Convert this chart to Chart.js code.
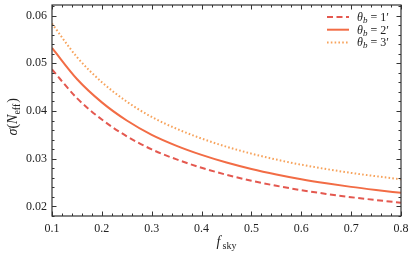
<!DOCTYPE html>
<html>
<head>
<meta charset="utf-8">
<script src="https://cdn.jsdelivr.net/npm/chart.js@4"></script>
<style>
  html, body { margin: 0; padding: 0; background: #fff; }
  #wrap { width: 414px; height: 256px; }
</style>
</head>
<body>
<div id="wrap"><canvas id="chart" width="414" height="256"></canvas></div>
<script>
const fsky = [0.10, 0.15, 0.20, 0.25, 0.30, 0.35, 0.40, 0.45, 0.50, 0.55, 0.60, 0.65, 0.70, 0.75, 0.80];
const sigmaBeam1 = [0.0487, 0.0427, 0.0382, 0.0347, 0.03195, 0.02985, 0.0281, 0.02663, 0.02539, 0.02433, 0.02341, 0.02263, 0.02194, 0.02134, 0.02079];
const sigmaBeam2 = [0.0532, 0.0467, 0.0418, 0.0380, 0.0350, 0.0327, 0.0308, 0.0292, 0.02785, 0.0267, 0.0257, 0.02485, 0.0241, 0.02345, 0.02285];
const sigmaBeam3 = [0.0583, 0.0513, 0.04604, 0.04196, 0.03874, 0.03627, 0.03423, 0.03251, 0.03106, 0.02982, 0.02875, 0.02784, 0.02703, 0.02633, 0.02569];
const beamLabels = ['1', '2', '3'];
const yTicks = [0.02, 0.03, 0.04, 0.05, 0.06];

const SERIF = '"Liberation Serif", "DejaVu Serif", serif';

function pts(ys) {
    return fsky.map((x, i) => ({ x: x, y: ys[i] }));
}

// inward ticks on all four sides, major + minor, plus titles and legend
const frameTicks = {
    id: 'frameTicks',
    afterDraw(chart) {
        const ctx = chart.ctx;
        const a = chart.chartArea;
        const xs = chart.scales.x, ys = chart.scales.y;
        ctx.save();
        ctx.strokeStyle = '#333';
        ctx.lineWidth = 1;
        ctx.beginPath();
        for (let k = 0; k <= 35; k++) {
            const v = 0.1 + k * 0.02;
            const px = Math.round(xs.getPixelForValue(v)) + 0.5;
            const len = (k % 5 === 0) ? 4.5 : 2.5;
            ctx.moveTo(px, a.bottom); ctx.lineTo(px, a.bottom - len);
            ctx.moveTo(px, a.top); ctx.lineTo(px, a.top + len);
        }
        for (let k = 0; k <= 22; k++) {
            const v = 0.018 + k * 0.002;
            if (v > ys.max) break;
            const py = Math.round(ys.getPixelForValue(v)) + 0.5;
            const major = Math.abs(v * 100 - Math.round(v * 100)) < 1e-6;
            const len = major ? 4.5 : 2.5;
            ctx.moveTo(a.left, py); ctx.lineTo(a.left + len, py);
            ctx.moveTo(a.right, py); ctx.lineTo(a.right - len, py);
        }
        ctx.stroke();
        ctx.lineWidth = 1.2;
        ctx.strokeRect(a.left, a.top, a.right - a.left, a.bottom - a.top);

        // axis titles
        ctx.fillStyle = '#222';
        ctx.textBaseline = 'alphabetic';
        const cx = (a.left + a.right) / 2;
        ctx.font = 'italic 14px ' + SERIF;
        ctx.textAlign = 'left';
        ctx.fillText('f', cx - 10, 246);
        ctx.font = '10px ' + SERIF;
        ctx.fillText('sky', cx - 4, 249);

        ctx.save();
        ctx.translate(17, (a.top + a.bottom) / 2);
        ctx.rotate(-Math.PI / 2);
        ctx.textAlign = 'left';
        let x0 = -25;
        ctx.font = 'italic 14px ' + SERIF;
        ctx.fillText('σ', x0, 0); x0 += ctx.measureText('σ').width;
        ctx.font = '14px ' + SERIF;
        ctx.fillText('(', x0, 0); x0 += ctx.measureText('(').width;
        ctx.font = 'italic 14px ' + SERIF;
        ctx.fillText('N', x0, 0); x0 += ctx.measureText('N').width;
        ctx.font = '10px ' + SERIF;
        ctx.fillText('eff', x0, 3); x0 += ctx.measureText('eff').width;
        ctx.font = '14px ' + SERIF;
        ctx.fillText(')', x0 + 1, 0);
        ctx.restore();

        // legend
        chart.data.datasets.forEach((ds, i) => {
            const ly = 17 + i * 12.7;
            ctx.save();
            ctx.strokeStyle = ds.borderColor;
            ctx.lineWidth = ds.borderWidth;
            ctx.setLineDash(ds.borderDash || []);
            ctx.beginPath();
            ctx.moveTo(327, ly); ctx.lineTo(349, ly);
            ctx.stroke();
            ctx.restore();
            let tx = 357;
            ctx.fillStyle = '#222';
            ctx.font = 'italic 12px ' + SERIF;
            ctx.fillText('θ', tx, ly + 4); tx += ctx.measureText('θ').width;
            ctx.font = 'italic 9px ' + SERIF;
            ctx.fillText('b', tx, ly + 6); tx += ctx.measureText('b').width + 3;
            ctx.font = '12px ' + SERIF;
            ctx.fillText('= ' + beamLabels[i] + '′', tx, ly + 4);
        });
        ctx.restore();
    }
};

new Chart(document.getElementById('chart').getContext('2d'), {
    type: 'line',
    data: {
        datasets: [
            {
                label: 'θb = 1′',
                data: pts(sigmaBeam1),
                borderColor: '#e4584f',
                borderWidth: 2,
                borderDash: [6, 3.5],
                pointRadius: 0,
                cubicInterpolationMode: 'monotone',
                fill: false
            },
            {
                label: 'θb = 2′',
                data: pts(sigmaBeam2),
                borderColor: '#f26c45',
                borderWidth: 2,
                pointRadius: 0,
                cubicInterpolationMode: 'monotone',
                fill: false
            },
            {
                label: 'θb = 3′',
                data: pts(sigmaBeam3),
                borderColor: '#f7a35c',
                borderWidth: 2,
                borderDash: [1.6, 2.2],
                pointRadius: 0,
                cubicInterpolationMode: 'monotone',
                fill: false
            }
        ]
    },
    options: {
        responsive: false,
        animation: false,
        layout: { padding: { top: 5, right: 13, left: 0, bottom: 0 } },
        plugins: {
            legend: { display: false },
            tooltip: { enabled: false }
        },
        scales: {
            x: {
                type: 'linear',
                min: 0.1,
                max: 0.8,
                grid: { display: false, drawTicks: false },
                border: { display: false },
                ticks: {
                    stepSize: 0.1,
                    padding: 6,
                    color: '#222',
                    font: { family: SERIF, size: 12 },
                    maxRotation: 0,
                    callback: v => v.toFixed(1)
                },
                afterFit: s => { s.height = 40; s.paddingLeft = 0; s.paddingRight = 0; }
            },
            y: {
                type: 'linear',
                min: 0.018,
                max: 0.0622,
                grid: { display: false, drawTicks: false },
                border: { display: false },
                afterBuildTicks: s => { s.ticks = yTicks.map(v => ({ value: v })); },
                ticks: {
                    padding: 5,
                    color: '#222',
                    font: { family: SERIF, size: 12 },
                    callback: v => v.toFixed(2)
                },
                afterFit: s => { s.width = 52; s.paddingTop = 0; s.paddingBottom = 0; }
            }
        }
    },
    plugins: [frameTicks]
});
</script>
</body>
</html>
